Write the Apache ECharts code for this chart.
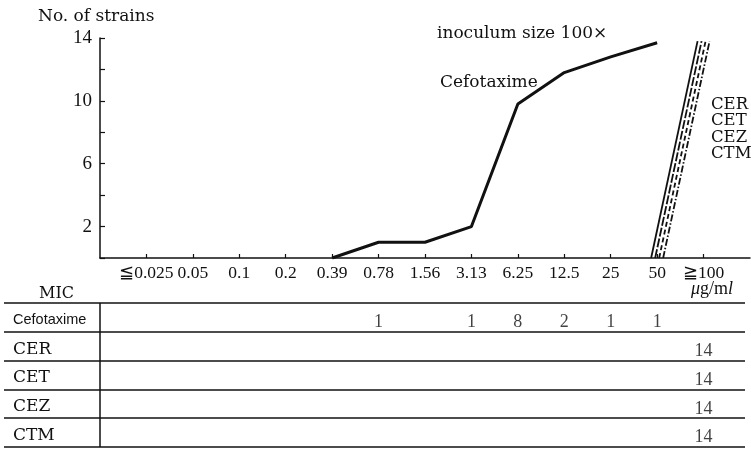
<!DOCTYPE html>
<html>
<head>
<meta charset="utf-8">
<script src="https://cdn.jsdelivr.net/npm/echarts@6/dist/echarts.min.js"></script>
<style>
html,body{margin:0;padding:0;background:#fff;}
#c{width:751px;height:449px;}
</style>
</head>
<body>
<div id="c"></div>
<script>
// ---- data ----
const micLabels = ['≦0.025','0.05','0.1','0.2','0.39','0.78','1.56','3.13','6.25','12.5','25','50','≧100'];
const yLabelValues = [2, 6, 10, 14];
// cumulative number of strains
const cefotaximeCurve = [null, null, null, null, 0, 1, 1, 2, 9.8, 11.8, 12.8, 13.7, null];
const cerCurve = [null, null, null, null, null, null, null, null, null, null, null, 0, 13.8];
const cetCurve = [null, null, null, null, null, null, null, null, null, null, null, 0, 13.8];
const cezCurve = [null, null, null, null, null, null, null, null, null, null, null, 0, 13.8];
const ctmCurve = [null, null, null, null, null, null, null, null, null, null, null, 0, 13.8];
// table
const tableRows = ['Cefotaxime', 'CER', 'CET', 'CEZ', 'CTM'];
const cefotaximeMIC = ['0.78', '3.13', '6.25', '12.5', '25', '50'];
const cefotaximeN = [1, 1, 8, 2, 1, 1];
const cerMIC = ['≧100']; const cerN = [14];
const cetMIC = ['≧100']; const cetN = [14];
const cezMIC = ['≧100']; const cezN = [14];
const ctmMIC = ['≧100']; const ctmN = [14];

// ---- layout ----
const W = 751, H = 449;
const gLeft = 100, gRight = 1, gTop = 38, gBottom = 191;
const axisCats = [''].concat(micLabels, ['']);
const pad = a => [null].concat(a, [null]);
const step = (W - gRight - gLeft) / (axisCats.length - 1);
const tLeft = 4, tRight = 6, tTop = 303, tBottom = 2;
const ink = '#111';

const chart = echarts.init(document.getElementById('c'), null, {renderer: 'canvas'});

const resist = [
  {name: 'CER', data: cerCurve, d: -6, type: 'solid'},
  {name: 'CET', data: cetCurve, d: -2, type: [9, 2]},
  {name: 'CEZ', data: cezCurve, d: 2, type: [5, 3]},
  {name: 'CTM', data: ctmCurve, d: 6, type: [7, 2, 1.5, 2]}
];

const grids = [{left: gLeft, right: gRight, top: gTop, bottom: gBottom, outerBoundsMode: 'none'}];
const xAxes = [{
  gridIndex: 0, type: 'category', data: axisCats, boundaryGap: false,
  axisLine: {lineStyle: {color: ink, width: 1.5}},
  axisTick: {inside: true, length: 4, lineStyle: {color: ink, width: 1.2},
    interval: (i) => i > 0 && i < axisCats.length - 1},
  axisLabel: {interval: 0, margin: 6, color: ink, fontFamily: 'Liberation Serif', fontSize: 17.5},
  splitLine: {show: false}
}];
const yAxes = [{
  gridIndex: 0, type: 'value', min: 0, max: 14, interval: 2,
  axisLine: {show: true, lineStyle: {color: ink, width: 1.5}},
  axisTick: {show: true, inside: true, length: 5, lineStyle: {color: ink, width: 1.2}},
  axisLabel: {margin: 8, color: ink, fontFamily: 'Liberation Serif', fontSize: 19,
    formatter: v => yLabelValues.indexOf(v) >= 0 ? String(v) : ''},
  splitLine: {show: false}
}];
const series = [{
  name: 'Cefotaxime', type: 'line', xAxisIndex: 0, yAxisIndex: 0,
  data: pad(cefotaximeCurve), symbol: 'none', connectNulls: false,
  lineStyle: {color: ink, width: 3}, z: 3
}];

resist.forEach((r, k) => {
  const gi = k + 1;
  grids.push({left: gLeft + r.d, right: gRight - r.d, top: gTop, bottom: gBottom, outerBoundsMode: 'none'});
  xAxes.push({gridIndex: gi, type: 'category', data: axisCats, boundaryGap: false, show: false});
  yAxes.push({gridIndex: gi, type: 'value', min: 0, max: 14, show: false});
  series.push({
    name: r.name, type: 'line', xAxisIndex: gi, yAxisIndex: gi,
    data: pad(r.data), symbol: 'none',
    lineStyle: {color: ink, width: 1.8, type: r.type}
  });
});

// table grid
const tg = grids.length;
grids.push({left: tLeft, right: tRight, top: tTop, bottom: tBottom, outerBoundsMode: 'none'});
xAxes.push({
  gridIndex: tg, type: 'value',
  min: (tLeft - gLeft) / step, max: (W - tRight - gLeft) / step,
  show: false
});
yAxes.push({
  gridIndex: tg, type: 'category', data: tableRows, inverse: true, boundaryGap: true,
  axisLine: {show: false}, axisTick: {show: false},
  splitLine: {show: true, lineStyle: {color: ink, width: 1.5}},
  axisLabel: {
    inside: true, margin: 9, color: ink,
    formatter: v => v === 'Cefotaxime' ? '{s|' + v + '}' : '{r|' + v + '}',
    rich: {
      s: {fontFamily: 'Liberation Sans', fontSize: 14.5, color: ink, padding: [5, 0, 0, 0]},
      r: {fontFamily: 'DejaVu Serif', fontSize: 17, color: ink, padding: [6, 0, 0, 0]}
    }
  }
});
const tablePts = [];
[[tableRows[0], cefotaximeMIC, cefotaximeN], [tableRows[1], cerMIC, cerN],
 [tableRows[2], cetMIC, cetN], [tableRows[3], cezMIC, cezN], [tableRows[4], ctmMIC, ctmN]]
  .forEach(([row, mics, ns]) => {
    mics.forEach((m, i) => tablePts.push([micLabels.indexOf(m) + 1, row, ns[i]]));
  });
series.push({
  name: 'table', type: 'scatter', xAxisIndex: tg, yAxisIndex: tg,
  data: tablePts, symbol: 'circle', symbolSize: 1,
  itemStyle: {color: 'rgba(0,0,0,0)'},
  label: {show: true, position: 'inside', offset: [0, 5], color: ink,
    fontFamily: 'Liberation Serif', fontSize: 18, formatter: p => String(p.value[2])},
  markLine: {
    silent: true, symbol: ['none', 'none'], label: {show: false},
    lineStyle: {color: ink, width: 1.5, type: 'solid'},
    data: [{xAxis: 0}]
  }
});

const serif = 'DejaVu Serif';
chart.setOption({
  animation: false,
  backgroundColor: '#fff',
  title: [
    {text: 'No. of strains', left: 33, top: 3, textStyle: {fontFamily: serif, fontSize: 17, fontWeight: 'normal', color: ink}},
    {text: 'inoculum size 100×', left: 432, top: 20, textStyle: {fontFamily: serif, fontSize: 17, fontWeight: 'normal', color: ink}},
    {text: 'Cefotaxime', left: 435, top: 69, textStyle: {fontFamily: serif, fontSize: 17, fontWeight: 'normal', color: ink}},
    {text: 'CER\nCET\nCEZ\nCTM', left: 706, top: 91, textStyle: {fontFamily: serif, fontSize: 16.5, lineHeight: 16.5, fontWeight: 'normal', color: ink}},
    {text: 'MIC', left: 34, top: 281, textStyle: {fontFamily: serif, fontSize: 16, fontWeight: 'normal', color: ink}},
    {text: '{i|μ}g/m{i|l}', right: 13, top: 275, textStyle: {fontFamily: 'Liberation Serif', fontSize: 18, fontWeight: 'normal', color: ink,
      rich: {i: {fontFamily: 'Liberation Serif', fontSize: 18, fontStyle: 'italic', color: ink}}}}
  ],
  grid: grids,
  xAxis: xAxes,
  yAxis: yAxes,
  series: series
});
</script>
</body>
</html>
